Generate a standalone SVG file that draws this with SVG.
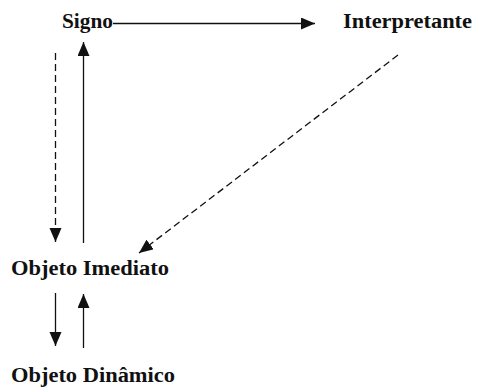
<svg xmlns="http://www.w3.org/2000/svg" width="477" height="387" viewBox="0 0 477 387">
<style>
text{font-family:"Liberation Serif","Times New Roman",serif;font-weight:bold;font-size:20px;fill:#111}
.ln{stroke:#111;stroke-width:1.3;fill:none}
.ds{stroke-dasharray:7 4}
</style>
<defs>
<marker id="ah" markerUnits="userSpaceOnUse" markerWidth="15" markerHeight="13" refX="14" refY="6" orient="auto">
<path d="M0,0 L14,6 L0,12 z" fill="#111"/>
</marker>
</defs>
<rect width="477" height="387" fill="#fff"/>
<g id="signo"><text x="62" y="28" textLength="51" lengthAdjust="spacingAndGlyphs">Signo</text></g>
<g id="interpretante"><text x="343" y="28" textLength="129" lengthAdjust="spacingAndGlyphs">Interpretante</text></g>
<g id="objeto-imediato"><text x="11" y="275" textLength="158" lengthAdjust="spacingAndGlyphs">Objeto Imediato</text></g>
<g id="objeto-dinamico"><text x="11" y="382" textLength="164" lengthAdjust="spacingAndGlyphs">Objeto Dinâmico</text></g>
<g id="connectors">
<line class="ln" x1="113" y1="23.5" x2="315" y2="23.5" marker-end="url(#ah)"/>
<line class="ln" x1="83.5" y1="243" x2="83.5" y2="42" marker-end="url(#ah)"/>
<line class="ln ds" x1="55.5" y1="53" x2="55.5" y2="242" marker-end="url(#ah)"/>
<line class="ln ds" x1="398" y1="55" x2="139" y2="253" marker-end="url(#ah)"/>
<line class="ln" x1="55.5" y1="293" x2="55.5" y2="346" marker-end="url(#ah)"/>
<line class="ln" x1="83.5" y1="348" x2="83.5" y2="294" marker-end="url(#ah)"/>
</g>
</svg>
